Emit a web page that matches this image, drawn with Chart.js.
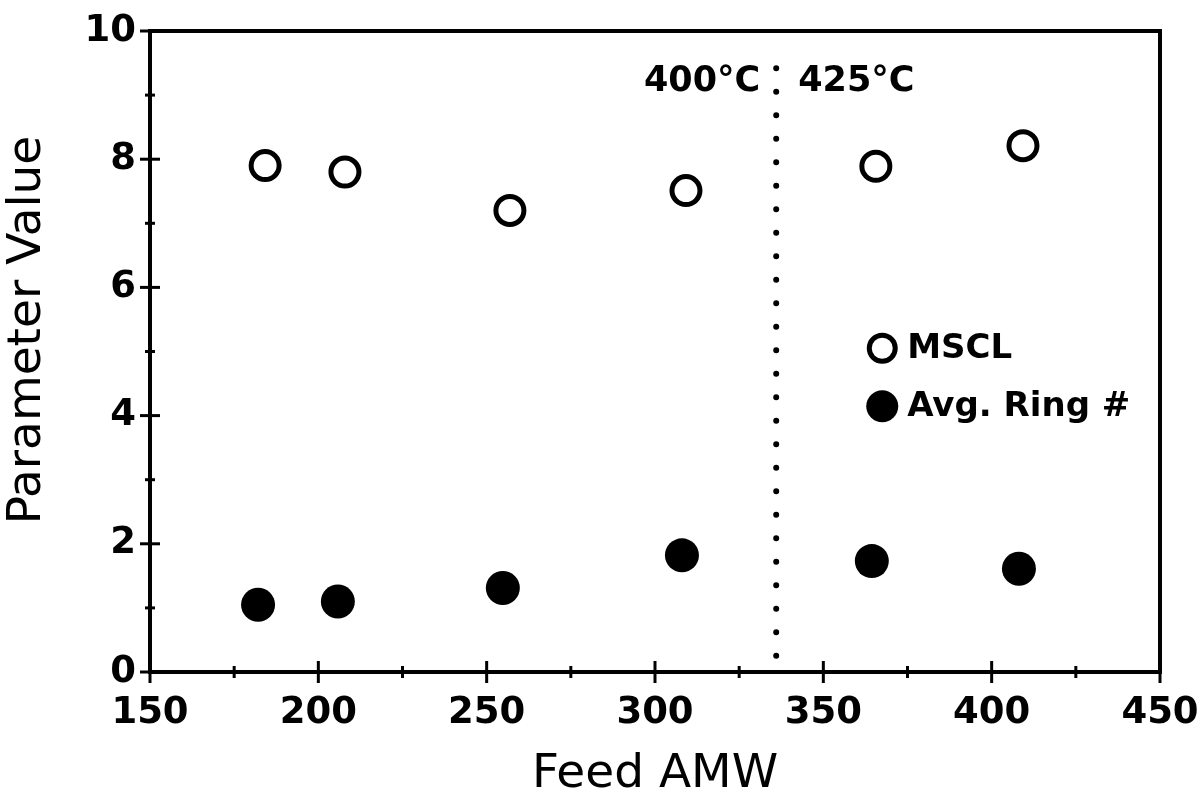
<!DOCTYPE html>
<html>
<head>
<meta charset="utf-8">
<script src="https://cdn.jsdelivr.net/npm/chart.js@4.4.0/dist/chart.umd.min.js"></script>
<style>
  html, body { margin: 0; padding: 0; background: #fff; }
  #wrap { width: 1198px; height: 801px; }
</style>
</head>
<body>
<div id="wrap"><canvas id="chart"></canvas></div>
<script>
// values
const msclAmw = [184.2, 207.9, 256.9, 309.2, 365.6, 409.3];
const msclValues = [7.90, 7.80, 7.20, 7.51, 7.89, 8.21];
const ringAmw = [182.1, 205.8, 254.8, 308.0, 364.4, 408.1];
const ringValues = [1.05, 1.10, 1.31, 1.82, 1.73, 1.61];

const xTickValues = [150, 200, 250, 300, 350, 400, 450];
const yTickValues = [0, 2, 4, 6, 8, 10];
const tempSplit = 336;               // dotted line between the two runs
const tempLabels = ["400°C", "425°C"];

const FONT = "DejaVu Sans";

// Frame, cross ticks, dotted divider, temperature labels, legend
const decorations = {
    id: "decorations",
    afterDatasetsDraw(chart) {
        const { ctx, chartArea: a, scales: { x, y } } = chart;
        ctx.save();
        ctx.strokeStyle = "#000";
        ctx.fillStyle = "#000";

        ctx.lineWidth = 4;
        ctx.strokeRect(a.left, a.top, a.right - a.left, a.bottom - a.top);

        const seg = (x1, y1, x2, y2) => {
            ctx.beginPath();
            ctx.moveTo(x1, y1);
            ctx.lineTo(x2, y2);
            ctx.stroke();
        };

        // ticks go through the axis line
        ctx.lineWidth = 3;
        xTickValues.forEach(v => {
            const px = x.getPixelForValue(v);
            seg(px, a.bottom - 11, px, a.bottom + 11);
        });
        for (let v = x.min + 25; v < x.max; v += 50) {
            const px = x.getPixelForValue(v);
            seg(px, a.bottom - 6, px, a.bottom + 6);
        }
        yTickValues.forEach(v => {
            const py = y.getPixelForValue(v);
            seg(a.left - 10, py, a.left + 10, py);
        });
        for (let v = y.min + 1; v < y.max; v += 2) {
            const py = y.getPixelForValue(v);
            seg(a.left - 5, py, a.left + 5, py);
        }

        // dotted divider
        const sx = x.getPixelForValue(tempSplit);
        ctx.lineWidth = 6;
        ctx.lineCap = "round";
        ctx.setLineDash([0, 23.5]);
        seg(sx, y.getPixelForValue(9.42), sx, y.getPixelForValue(0.15));
        ctx.setLineDash([]);

        // temperature labels either side of the divider
        ctx.font = "bold 35px '" + FONT + "'";
        ctx.textBaseline = "middle";
        const ly = y.getPixelForValue(9.2);
        ctx.textAlign = "right";
        ctx.fillText(tempLabels[0], sx - 16, ly);
        ctx.textAlign = "left";
        ctx.fillText(tempLabels[1], sx + 22, ly);

        // legend inside the plot
        ctx.font = "bold 34px '" + FONT + "'";
        const lx = x.getPixelForValue(367.5);
        let rowY = y.getPixelForValue(5.05);
        chart.data.datasets.forEach(ds => {
            ctx.beginPath();
            ctx.arc(lx, rowY, ds.pointRadius - 1, 0, Math.PI * 2);
            ctx.fillStyle = ds.pointBackgroundColor;
            ctx.fill();
            if (ds.pointBorderWidth) {
                ctx.lineWidth = ds.pointBorderWidth;
                ctx.stroke();
            }
            ctx.fillStyle = "#000";
            ctx.textAlign = "left";
            ctx.fillText(ds.label, lx + 25, rowY + 1);
            rowY += 58;
        });

        // y axis title
        ctx.save();
        ctx.translate(28, 330);
        ctx.rotate(-Math.PI / 2);
        ctx.font = "47px '" + FONT + "'";
        ctx.textAlign = "center";
        ctx.fillText("Parameter Value", 0, 0);
        ctx.restore();

        ctx.restore();
    }
};

const ctx = document.getElementById("chart").getContext("2d");
new Chart(ctx, {
    type: "scatter",
    data: {
        datasets: [{
            label: "MSCL",
            data: msclAmw.map((v, i) => ({ x: v, y: msclValues[i] })),
            pointRadius: 14,
            pointBorderWidth: 5,
            pointBorderColor: "#000",
            pointBackgroundColor: "#fff"
        }, {
            label: "Avg. Ring #",
            data: ringAmw.map((v, i) => ({ x: v, y: ringValues[i] })),
            pointRadius: 17,
            pointBorderWidth: 0,
            pointBorderColor: "#000",
            pointBackgroundColor: "#000"
        }]
    },
    options: {
        responsive: true,
        maintainAspectRatio: false,
        animation: false,
        layout: { padding: { top: 31, right: 38, left: 0, bottom: 0 } },
        plugins: { legend: { display: false }, tooltip: { enabled: false } },
        scales: {
            x: {
                type: "linear",
                min: 150,
                max: 450,
                afterBuildTicks: s => { s.ticks = xTickValues.map(v => ({ value: v })); },
                afterFit: s => { s.height = 129; s.paddingLeft = 0; s.paddingRight = 0; },
                grid: { display: false, drawTicks: false },
                border: { display: false },
                ticks: {
                    padding: 19,
                    color: "#000",
                    font: { family: FONT, size: 37, weight: "bold" }
                },
                title: {
                    display: true,
                    text: "Feed AMW",
                    color: "#000",
                    font: { family: FONT, size: 47, lineHeight: 1 },
                    padding: { top: 0, bottom: 3 }
                }
            },
            y: {
                min: 0,
                max: 10,
                afterBuildTicks: s => { s.ticks = yTickValues.map(v => ({ value: v })); },
                afterFit: s => { s.width = 150; s.paddingTop = 0; s.paddingBottom = 0; },
                grid: { display: false, drawTicks: false },
                border: { display: false },
                ticks: {
                    padding: 14,
                    color: "#000",
                    font: { family: FONT, size: 37, weight: "bold" }
                }
            }
        }
    },
    plugins: [decorations]
});
</script>
</body>
</html>
